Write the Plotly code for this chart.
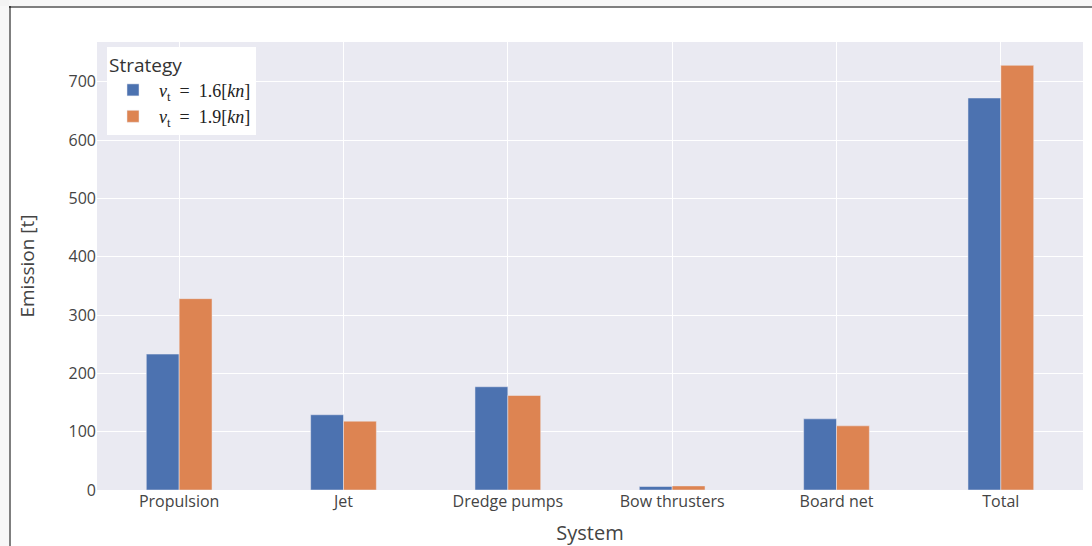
import plotly.graph_objects as go

# Emissions per system for the two sailing-speed strategies
systems = ["Propulsion", "Jet", "Dredge pumps", "Bow thrusters", "Board net", "Total"]
emission_v16 = [233, 129, 177, 6, 122, 672]
emission_v19 = [328, 118, 162, 7, 110, 728]
strategy_names = [
    "<i>v</i><sub>t</sub>&nbsp;&nbsp;=&nbsp;&nbsp;1.6[<i>kn</i>]",
    "<i>v</i><sub>t</sub>&nbsp;&nbsp;=&nbsp;&nbsp;1.9[<i>kn</i>]",
]
y_ticks = [0, 100, 200, 300, 400, 500, 600, 700]

W, H = 1092, 546
L, R, T, B = 97, 9, 42, 56
PW, PH = W - L - R, H - T - B


def px_x(p):
    return (p - L) / PW


def px_y(p):
    return (H - B - p) / PH


fig = go.Figure()
fig.add_trace(go.Bar(name=strategy_names[0], x=systems, y=emission_v16,
                     marker_color="#4C72B0"))
fig.add_trace(go.Bar(name=strategy_names[1], x=systems, y=emission_v19,
                     marker_color="#DD8452"))

frame = "#000000"
outer = "#f0f0f0"
shapes = [
    dict(type="rect", xref="paper", yref="paper", layer="above",
         x0=px_x(-5), x1=px_x(W + 5), y0=px_y(-5), y1=px_y(6),
         fillcolor=outer, line_width=0),
    dict(type="rect", xref="paper", yref="paper", layer="above",
         x0=px_x(-5), x1=px_x(9), y0=px_y(-5), y1=px_y(H + 5),
         fillcolor=outer, line_width=0),
    dict(type="rect", xref="paper", yref="paper", layer="above",
         x0=px_x(9), x1=px_x(W + 5), y0=px_y(8), y1=px_y(6),
         fillcolor=frame, line_width=0),
    dict(type="rect", xref="paper", yref="paper", layer="above",
         x0=px_x(9), x1=px_x(11), y0=px_y(6), y1=px_y(H + 5),
         fillcolor=frame, line_width=0),
]

fig.update_layout(
    template="seaborn",
    width=W, height=H, autosize=False,
    margin=dict(l=L, r=R, t=T, b=B, pad=0),
    paper_bgcolor="white",
    plot_bgcolor="rgb(234,234,242)",
    barmode="group",
    bargap=0.6,
    bargroupgap=0,
    font=dict(family="Open Sans", size=16, color="#444"),
    legend=dict(
        title=dict(text="Strategy", font=dict(family="Open Sans", size=19, color="#333")),
        x=px_x(107), y=px_y(47), xanchor="left", yanchor="top",
        bgcolor="white",
        itemwidth=42,
        tracegroupgap=0,
        font=dict(family="Liberation Serif", size=18, color="#222"),
    ),
    xaxis=dict(
        title=dict(text="System", font=dict(size=20, color="#444")),
        range=[-0.5, 5.5],
        automargin=False,
        tickfont=dict(size=16, color="#444"),
    ),
    yaxis=dict(
        title=dict(text="Emission [t]", font=dict(size=19, color="#444"), standoff=28),
        range=[0, 768],
        tickvals=y_ticks,
        automargin=False,
        tickfont=dict(size=16, color="#444"),
    ),
    shapes=shapes,
)

fig.write_html("out.html")
